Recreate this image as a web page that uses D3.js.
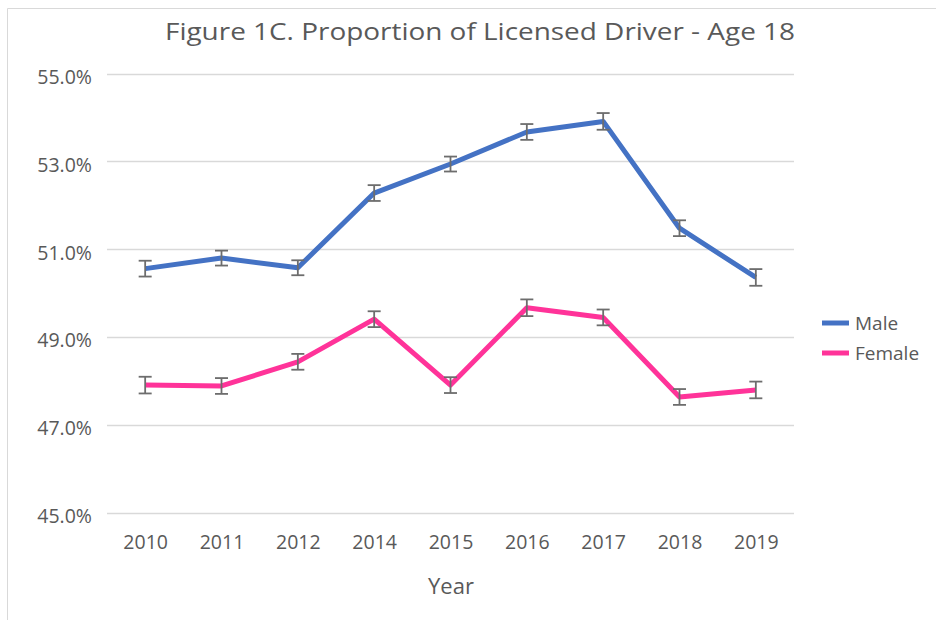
<!DOCTYPE html>
<html><head><meta charset="utf-8">
<script src="https://cdn.jsdelivr.net/npm/d3@7"></script>
<style>body{margin:0;background:#fff;} svg{display:block;font-family:"Open Sans",sans-serif;}</style>
</head><body>
<svg id="c" width="936" height="620"></svg>
<script>
const years = ["2010","2011","2012","2014","2015","2016","2017","2018","2019"];
const male = [50.56, 50.80, 50.58, 52.28, 52.94, 53.67, 53.91, 51.48, 50.36];
const female = [47.91, 47.89, 48.44, 49.41, 47.91, 49.67, 49.45, 47.64, 47.80];
const maleErr = [0.18, 0.17, 0.17, 0.18, 0.17, 0.18, 0.19, 0.18, 0.19];
const femaleErr = [0.19, 0.18, 0.18, 0.18, 0.18, 0.19, 0.18, 0.18, 0.19];
const yTicks = [45, 47, 49, 51, 53, 55];
const seriesNames = ["Male", "Female"];
const colors = ["#4472C4", "#FF3399"];

const svg = d3.select("#c");
const x = d3.scalePoint().domain(years).range([107, 794]).padding(0.5);
const y = d3.scaleLinear().domain([45, 55]).range([513, 73.5]);

// border
svg.append("path").attr("d","M7.5,620V8.5H936").attr("fill","none").attr("stroke","#d9d9d9").attr("stroke-width",1);

// title
svg.append("text").attr("x",480).attr("y",40).attr("text-anchor","middle")
  .attr("font-size",24).attr("fill","#595959").attr("textLength",630).attr("lengthAdjust","spacingAndGlyphs")
  .text("Figure 1C. Proportion of Licensed Driver - Age 18");

// gridlines + y axis
svg.append("g").selectAll("line").data(yTicks).join("line")
  .attr("x1",107).attr("x2",794).attr("y1",d=>Math.round(y(d))+0.5).attr("y2",d=>Math.round(y(d))+0.5)
  .attr("stroke","#d9d9d9").attr("stroke-width",1.3);
const yAxis = d3.axisLeft(y).tickValues(yTicks).tickSize(0).tickPadding(15).tickFormat(d => d.toFixed(1) + "%");
const gy = svg.append("g").attr("transform","translate(107,0)").call(yAxis);
gy.select(".domain").remove();
gy.selectAll("text").attr("font-size",19.5).attr("fill","#595959").attr("font-family","Open Sans").attr("dy","0.5em");

// x axis
const xAxis = d3.axisBottom(x).tickSize(0).tickPadding(22);
const gx = svg.append("g").attr("transform","translate(0,513)").call(xAxis);
gx.select(".domain").remove();
gx.selectAll("text").attr("font-size",19.5).attr("fill","#595959").attr("font-family","Open Sans");

svg.append("text").attr("x",451).attr("y",594).attr("text-anchor","middle")
  .attr("font-size",22).attr("fill","#595959").text("Year");

// series
const series = [
  {name: seriesNames[0], vals: male, err: maleErr, color: colors[0]},
  {name: seriesNames[1], vals: female, err: femaleErr, color: colors[1]}
];
const line = d3.line().x((d,i)=>x(years[i])).y(d=>y(d));
series.forEach(s => {
  svg.append("path").datum(s.vals).attr("d", line).attr("fill","none")
    .attr("stroke", s.color).attr("stroke-width",5).attr("stroke-linejoin","round");
});
series.forEach(s => {
  const g = svg.append("g").attr("stroke","#6d6d6d").attr("stroke-width",1.8);
  s.vals.forEach((v,i) => {
    const cx = x(years[i]), y1 = y(v + s.err[i]), y2 = y(v - s.err[i]);
    g.append("line").attr("x1",cx).attr("x2",cx).attr("y1",y1).attr("y2",y2);
    g.append("line").attr("x1",cx-6.5).attr("x2",cx+6.5).attr("y1",y1).attr("y2",y1);
    g.append("line").attr("x1",cx-6.5).attr("x2",cx+6.5).attr("y1",y2).attr("y2",y2);
  });
});

// legend
const lg = svg.append("g").attr("transform","translate(822,323)");
series.forEach((s,i) => {
  const gi = lg.append("g").attr("transform",`translate(0,${i*30})`);
  gi.append("line").attr("x1",0).attr("x2",27).attr("stroke",s.color).attr("stroke-width",5);
  gi.append("text").attr("x",33).attr("y",7).attr("font-size",19).attr("fill","#595959").text(s.name);
});
</script>
</body></html>
